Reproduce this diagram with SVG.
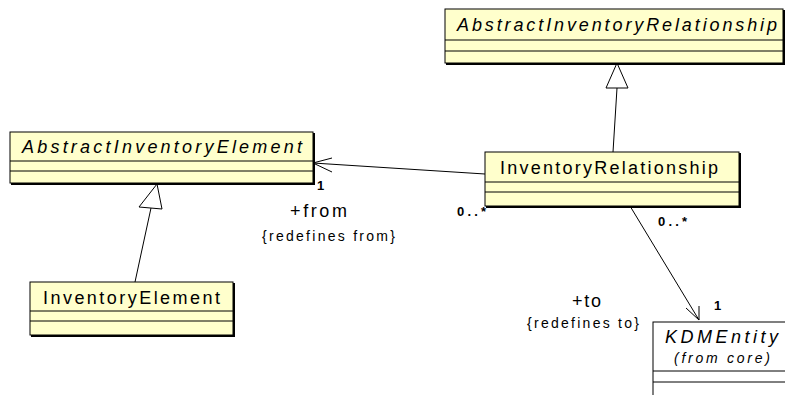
<svg xmlns="http://www.w3.org/2000/svg" width="785" height="395" viewBox="0 0 785 395">
<style>
.box{fill:#FFFFCC;stroke:#000;stroke-width:1}
.wbox{fill:#FFFFFF;stroke:#000;stroke-width:1}
.sh{stroke:#000;stroke-width:2;fill:none}
.sep{stroke:#000;stroke-width:1}
.edge{stroke:#000;stroke-width:1;fill:none}
.tri{fill:#FFFFFF;stroke:#000;stroke-width:1}
.name{font-family:"Liberation Sans",Arial,sans-serif;font-size:18px;fill:#000}
.it{font-style:italic}
.lbl{font-family:"Liberation Sans",Arial,sans-serif;font-size:18px;fill:#000}
.con{font-family:"Liberation Sans",Arial,sans-serif;font-size:14px;fill:#000}
.mul{font-family:"Liberation Sans",Arial,sans-serif;font-size:13px;font-weight:bold;fill:#000}
</style>
<g id="connectors">
  <line class="edge" x1="613" y1="152" x2="617" y2="88"/>
  <polygon class="tri" points="617,63 606,88 628,88"/>
  <line class="edge" x1="135" y1="282" x2="151" y2="208"/>
  <polygon class="tri" points="157,184 139,207 162,209"/>
  <line class="edge" x1="485" y1="174" x2="313" y2="163"/>
  <polyline class="edge" points="332,158 313,163 332,172"/>
  <line class="edge" x1="630" y1="206" x2="699" y2="320"/>
  <polyline class="edge" points="686,308 699,320 699,306"/>
  <text class="mul" x="317" y="190">1</text>
  <text class="lbl" x="290" y="217" textLength="57" lengthAdjust="spacing">+from</text>
  <text class="con" x="262" y="241" textLength="133" lengthAdjust="spacing">{redefines from}</text>
  <text class="mul" x="457" y="216" textLength="29" lengthAdjust="spacing">0..*</text>
  <text class="mul" x="658" y="226" textLength="29" lengthAdjust="spacing">0..*</text>
  <text class="mul" x="714" y="310">1</text>
  <text class="lbl" x="572" y="307" textLength="29" lengthAdjust="spacing">+to</text>
  <text class="con" x="527" y="328" textLength="112" lengthAdjust="spacing">{redefines to}</text>
</g>
<g id="AbstractInventoryRelationship">
  <rect class="box" x="445" y="9" width="338" height="54"/>
  <polyline class="sh" points="446,64 784,64 784,10"/>
  <line class="sep" x1="445" y1="40" x2="783" y2="40"/>
  <line class="sep" x1="445" y1="51" x2="783" y2="51"/>
  <text class="name it" x="457" y="31" textLength="320" lengthAdjust="spacing">AbstractInventoryRelationship</text>
</g>
<g id="AbstractInventoryElement">
  <rect class="box" x="10" y="132" width="303" height="51"/>
  <polyline class="sh" points="11,184 314,184 314,133"/>
  <line class="sep" x1="10" y1="161" x2="313" y2="161"/>
  <line class="sep" x1="10" y1="171" x2="313" y2="171"/>
  <text class="name it" x="22" y="153" textLength="280" lengthAdjust="spacing">AbstractInventoryElement</text>
</g>
<g id="InventoryRelationship">
  <rect class="box" x="485" y="152" width="254" height="54"/>
  <polyline class="sh" points="486,207 740,207 740,153"/>
  <line class="sep" x1="485" y1="182" x2="739" y2="182"/>
  <line class="sep" x1="485" y1="192" x2="739" y2="192"/>
  <text class="name" x="500" y="174" textLength="218" lengthAdjust="spacing">InventoryRelationship</text>
</g>
<g id="InventoryElement">
  <rect class="box" x="30" y="282" width="203" height="53"/>
  <polyline class="sh" points="31,336 234,336 234,283"/>
  <line class="sep" x1="30" y1="311" x2="233" y2="311"/>
  <line class="sep" x1="30" y1="321" x2="233" y2="321"/>
  <text class="name" x="43" y="304" textLength="177" lengthAdjust="spacing">InventoryElement</text>
</g>
<g id="KDMEntity">
  <rect class="wbox" x="653" y="322" width="150" height="90"/>
  <line class="sep" x1="653" y1="371" x2="790" y2="371"/>
  <line class="sep" x1="653" y1="382" x2="790" y2="382"/>
  <text class="name it" x="665" y="343" textLength="113" lengthAdjust="spacing">KDMEntity</text>
  <text class="con it" x="674" y="363" textLength="96" lengthAdjust="spacing">(from core)</text>
</g>
</svg>
